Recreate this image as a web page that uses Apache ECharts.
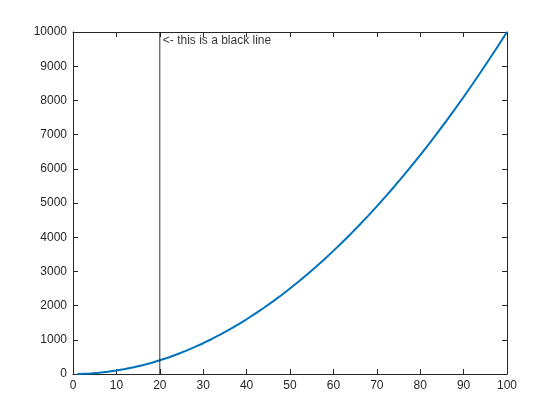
<!DOCTYPE html>
<html>
<head>
<meta charset="utf-8">
<script src="https://cdn.jsdelivr.net/npm/echarts@6/dist/echarts.min.js"></script>
<style>html,body{margin:0;padding:0;background:#fff}#c{width:560px;height:420px}</style>
</head>
<body>
<div id="c"></div>
<script>
var xVals = [1, 2, 4, 6, 8, 10, 12, 14, 16, 18, 20, 22, 24, 26, 28, 30, 32, 34, 36, 38, 40, 42, 44, 46, 48, 50, 52, 54, 56, 58, 60, 62, 64, 66, 68, 70, 72, 74, 76, 78, 80, 82, 84, 86, 88, 90, 92, 94, 96, 98, 100];
var yVals = [1, 4, 16, 36, 64, 100, 144, 196, 256, 324, 400, 484, 576, 676, 784, 900, 1024, 1156, 1296, 1444, 1600, 1764, 1936, 2116, 2304, 2500, 2704, 2916, 3136, 3364, 3600, 3844, 4096, 4356, 4624, 4900, 5184, 5476, 5776, 6084, 6400, 6724, 7056, 7396, 7744, 8100, 8464, 8836, 9216, 9604, 10000];
var lineX = 20;
var lineY = [0, 10000];
var labelText = '<- this is a black line';
var labelPos = [20, 9760];

var curve = xVals.map(function (x, i) { return [x, yVals[i]]; });
var font = 'Liberation Sans, Arial, sans-serif';
var axisColor = '#262626';

function xa(pos, show) {
  return {
    type: 'value', position: pos, min: 0, max: 100, interval: 10,
    axisLine: { show: true, onZero: false, lineStyle: { color: axisColor, width: 1 } },
    axisTick: { show: true, inside: true, length: 5, lineStyle: { color: axisColor } },
    axisLabel: { show: show, color: axisColor, fontSize: 12, fontFamily: font, margin: 6, formatter: function (v) { return String(v); } },
    splitLine: { show: false }
  };
}
function ya(pos, show) {
  return {
    type: 'value', position: pos, min: 0, max: 10000, interval: 1000,
    axisLine: { show: true, onZero: false, lineStyle: { color: axisColor, width: 1 } },
    axisTick: { show: true, inside: true, length: 5, lineStyle: { color: axisColor } },
    axisLabel: { show: show, color: axisColor, fontSize: 12, fontFamily: font, margin: 6, formatter: function (v) { return String(v); } },
    splitLine: { show: false }
  };
}

var chart = echarts.init(document.getElementById('c'), null, { renderer: 'canvas' });
chart.setOption({
  animation: false,
  backgroundColor: '#fff',
  grid: { left: 73, right: 53, top: 32, bottom: 46, containLabel: false },
  xAxis: [xa('bottom', true), xa('top', false)],
  yAxis: [ya('left', true), ya('right', false)],
  series: [
    {
      type: 'line', data: curve, showSymbol: false,
      lineStyle: { color: '#0072BD', width: 2 }, itemStyle: { color: '#0072BD' }
    },
    {
      type: 'line', data: [[lineX, lineY[0]], [lineX, lineY[1]]], showSymbol: false,
      lineStyle: { color: '#000', width: 0.8 }
    },
    {
      type: 'scatter', data: [labelPos], symbolSize: 0,
      label: { show: true, position: 'right', distance: 3, formatter: labelText, color: '#000', fontSize: 12, fontFamily: font }
    }
  ]
});
</script>
</body>
</html>
